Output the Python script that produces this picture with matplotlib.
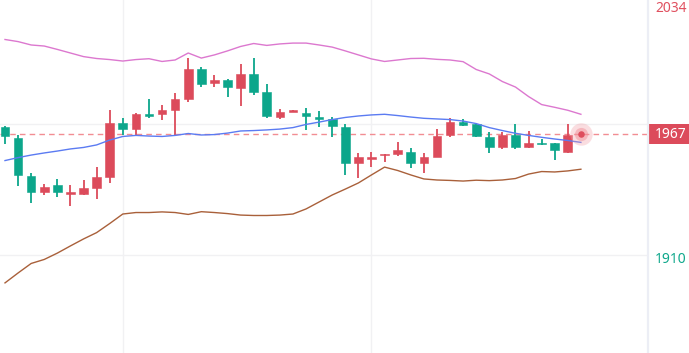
import matplotlib
matplotlib.use("Agg")
import matplotlib.pyplot as plt
import matplotlib.transforms as mtransforms
from matplotlib.patches import Rectangle
import numpy as np

plt.rcParams['font.family'] = ['Noto Sans', 'DejaVu Sans']

# ---- data ----
opens  = [1970.4, 1965.5, 1947.5, 1939.7, 1943.0, 1939.0, 1939.0, 1941.9, 1947.1, 1972.5,
          1969.8, 1976.7, 1976.7, 1978.6, 1983.7, 1998.0, 1991.5, 1992.7, 1989.2, 1995.7,
          1987.3, 1975.5, 1977.9, 1977.3, 1975.5, 1974.2, 1970.7, 1953.7, 1955.6, 1957.2,
          1957.8, 1958.9, 1953.7, 1956.5, 1966.8, 1973.1, 1971.9, 1966.0, 1961.3, 1966.7,
          1961.3, 1963.2, 1963.2, 1958.9, 1967.3]
highs  = [1971.1, 1966.8, 1948.8, 1943.6, 1946.0, 1943.1, 1945.5, 1951.8, 1978.6, 1975.0,
          1977.3, 1984.0, 1981.0, 1986.7, 2003.1, 1999.1, 1995.0, 1993.3, 2000.4, 2003.1,
          1990.9, 1979.1, 1978.4, 1979.6, 1978.3, 1975.5, 1972.0, 1958.4, 1958.7, 1957.9,
          1963.6, 1960.5, 1958.4, 1969.5, 1975.0, 1974.2, 1972.6, 1968.4, 1968.4, 1972.0,
          1968.8, 1965.0, 1963.2, 1971.9, 1967.3]
lows   = [1962.5, 1942.8, 1934.8, 1938.4, 1937.6, 1933.3, 1938.4, 1936.5, 1944.2, 1966.8,
          1966.8, 1974.7, 1973.8, 1966.8, 1982.6, 1989.7, 1989.7, 1984.9, 1980.7, 1985.7,
          1975.0, 1974.4, 1977.8, 1969.2, 1970.4, 1966.0, 1947.7, 1946.3, 1951.5, 1954.2,
          1957.0, 1951.3, 1949.0, 1956.5, 1965.7, 1970.9, 1965.7, 1958.4, 1960.0, 1960.2,
          1960.8, 1961.9, 1955.0, 1958.4, 1967.3]
closes = [1966.3, 1947.9, 1939.7, 1942.3, 1939.7, 1939.7, 1941.7, 1947.1, 1972.5, 1969.8,
          1976.7, 1975.9, 1978.5, 1983.8, 1998.0, 1990.9, 1992.8, 1989.7, 1995.7, 1987.3,
          1975.9, 1977.8, 1978.3, 1975.8, 1974.5, 1971.1, 1953.7, 1956.5, 1956.2, 1957.8,
          1959.7, 1953.7, 1956.5, 1966.5, 1973.1, 1971.5, 1966.3, 1961.3, 1966.7, 1961.3,
          1963.2, 1962.5, 1959.7, 1966.8, 1967.3]

upper_band = [2012.0, 2011.0, 2009.4, 2008.9, 2007.3, 2005.6, 2003.9, 2003.0, 2002.5, 2001.8,
              2002.5, 2002.9, 2001.6, 2002.3, 2005.6, 2003.2, 2004.7, 2006.6, 2008.7, 2010.1,
              2009.2, 2009.9, 2010.3, 2010.3, 2009.4, 2008.4, 2006.6, 2004.7, 2002.8, 2001.6,
              2002.3, 2003.0, 2003.1, 2002.6, 2002.3, 2001.5, 1997.8, 1995.7, 1992.1, 1989.5,
              1985.0, 1981.2, 1979.9, 1978.5, 1976.6]
middle_band = [1954.7, 1956.1, 1957.3, 1958.3, 1959.2, 1960.2, 1960.9, 1962.1, 1964.4, 1966.1,
               1966.6, 1966.3, 1966.1, 1966.6, 1967.5, 1966.8, 1967.0, 1967.7, 1968.7, 1968.9,
               1969.2, 1969.6, 1970.3, 1971.8, 1972.9, 1974.1, 1975.1, 1975.8, 1976.3, 1976.6,
               1976.0, 1975.3, 1974.7, 1974.4, 1974.1, 1973.4, 1972.2, 1970.3, 1968.9, 1967.6,
               1966.6, 1965.7, 1964.9, 1964.2, 1963.3]
lower_band = [1896.8, 1901.5, 1906.0, 1907.9, 1910.9, 1914.3, 1917.6, 1920.6, 1924.9, 1929.4,
              1930.1, 1930.1, 1930.4, 1930.1, 1929.2, 1930.5, 1930.1, 1929.6, 1928.9, 1928.7,
              1928.7, 1928.9, 1929.4, 1931.8, 1935.1, 1938.4, 1941.2, 1944.1, 1947.9, 1951.6,
              1950.0, 1947.9, 1946.0, 1945.5, 1945.3, 1945.0, 1945.4, 1945.2, 1945.5, 1946.2,
              1948.3, 1949.5, 1949.3, 1949.8, 1950.6]

last_price = 1967.3
grid_prices = [1972.0, 1910.0]
vgrid_index = [9, 28]
right_labels = ["2034", "1910"]
last_label = "1967"

# ---- styling ----
RED = "#dc4b5b"
GREEN = "#0ca68b"
W, H = 689, 353
fig = plt.figure(figsize=(W / 100, H / 100), dpi=100)
ax = fig.add_axes([0, 0, 647 / W, 1])
ax.set_xlim(-0.382, 49.05)
ax.set_ylim(1863.62, 2030.69)
ax.axis("off")

for p in grid_prices:
    ax.axhline(p, color="#f1f1f3", lw=1.0, zorder=0)
for i in vgrid_index:
    ax.axvline(i, color="#f1f1f3", lw=1.0, zorder=0)

x = np.arange(len(opens))
o = np.array(opens); c = np.array(closes); hi = np.array(highs); lo = np.array(lows)
up = c >= o
cols = np.where(up, RED, GREEN)
bottoms = np.minimum(o, c)
heights = np.maximum(np.abs(c - o), 0.6)
ax.vlines(x[:-1], lo[:-1], hi[:-1], colors=cols[:-1], lw=1.3, zorder=3)
ax.bar(x[:-1], heights[:-1], bottom=bottoms[:-1], width=0.66, color=cols[:-1],
       edgecolor=cols[:-1], linewidth=0.4, zorder=4)

ax.plot(x, upper_band, color="#dc78cf", lw=1.0, zorder=5)
ax.plot(x, middle_band, color="#5b7bf2", lw=1.0, zorder=5)
ax.plot(x, lower_band, color="#a9603a", lw=1.0, zorder=5)

ax.axhline(last_price, color="#f28d93", lw=1.0, ls=(0, (4, 3)), zorder=2)

ax.scatter([x[-1]], [last_price], s=260, color="#f3a0a8", alpha=0.35, lw=0, zorder=6)
ax.scatter([x[-1]], [last_price], s=90, color="#f08892", alpha=0.45, lw=0, zorder=6)
ax.scatter([x[-1]], [last_price], s=22, color="#de4d5d", lw=0, zorder=7)

# right axis separator
fig.add_artist(plt.Line2D([647.5 / W, 647.5 / W], [0, 1], color="#eceef5", lw=1.6))

trans = mtransforms.blended_transform_factory(fig.transFigure, ax.transData)
fx = 655 / W
FS = 10.0
fig.text(fx, 1 - 8 / H, right_labels[0], color="#e0505f", fontsize=FS,
         va="center", ha="left")
ax.text(fx, grid_prices[1] - 2.2, right_labels[1], transform=trans, color="#10a88c",
        fontsize=FS, va="center", ha="left", clip_on=False, zorder=8)

box = Rectangle((647 / W, last_price - 4.9), 50 / W, 9.8, transform=trans,
                facecolor="#dc4b5b", edgecolor="none", clip_on=False, zorder=9)
ax.add_patch(box)
ax.text(fx, last_price - 0.3, last_label, transform=trans, color="white",
        fontsize=FS, va="center", ha="left", clip_on=False, zorder=10)

fig.savefig("out.png", dpi=100)
